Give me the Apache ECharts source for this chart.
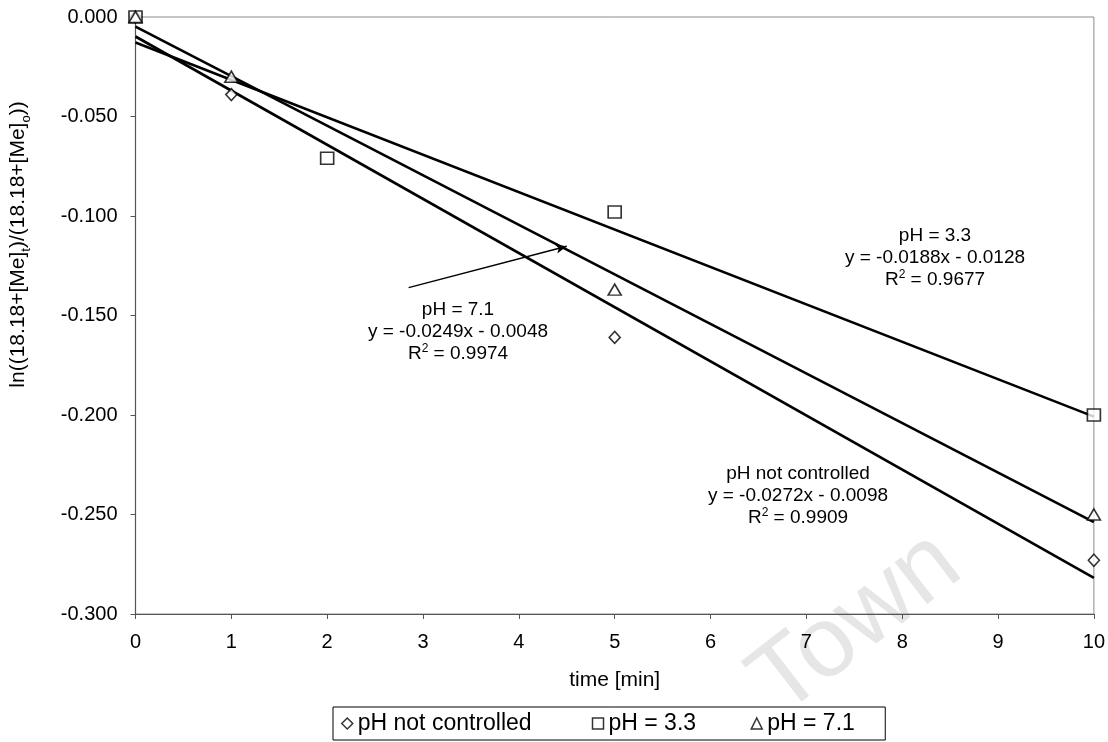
<!DOCTYPE html>
<html>
<head>
<meta charset="utf-8">
<script src="https://cdn.jsdelivr.net/npm/echarts@6/dist/echarts.min.js"></script>
<style>
  html, body { margin: 0; padding: 0; background: #fff; }
  #chart { width: 1108px; height: 742px; }
</style>
</head>
<body>
<div id="chart"></div>
<script>
// Measured points: time [min] vs ln((18.18+[Me]t)/(18.18+[Me]o))
const seriesNames = ['pH not controlled', 'pH = 3.3', 'pH = 7.1'];
const timeNotControlled = [0, 1, 5, 10];
const valNotControlled = [0, -0.039, -0.161, -0.273];
const timePH33 = [0, 2, 5, 10];
const valPH33 = [0, -0.071, -0.098, -0.200];
const timePH71 = [0, 1, 5, 10];
const valPH71 = [0, -0.030, -0.137, -0.250];

// Linear fits (slope, intercept, R²) as printed beside the lines
const fitSlopes = [-0.0272, -0.0188, -0.0249];
const fitIntercepts = [-0.0098, -0.0128, -0.0048];
const fitR2 = ['0.9909', '0.9677', '0.9974'];
const fitRange = [0, 10];

// Pointer from the pH = 7.1 label to its fitted line
const pointerStart = [2.85, -0.136];
const pointerEnd = [4.50, -0.1152];

const xTicks = { min: 0, max: 10, interval: 1 };
const yTicks = { min: -0.3, max: 0, interval: 0.05 };

const FONT = 'Liberation Sans, Arial, sans-serif';
const symbols = ['diamond', 'rect', 'triangle'];
const symbolSizes = [[11, 12], [13, 12], [13, 11]];
const legendTextWidths = [222, 130, 110];
const pointSets = [
  [timeNotControlled, valNotControlled],
  [timePH33, valPH33],
  [timePH71, valPH71]
];

const zip = (xs, ys) => xs.map((x, i) => [x, ys[i]]);

const scatterSeries = pointSets.map(([xs, ys], i) => ({
  name: seriesNames[i],
  type: 'scatter',
  data: zip(xs, ys),
  symbol: symbols[i],
  symbolSize: symbolSizes[i],
  itemStyle: { color: '#fff', borderColor: '#000', borderWidth: 1.6 },
  z: 4
}));

const fitSeries = fitSlopes.map((m, i) => ({
  name: seriesNames[i] + ' fit',
  type: 'line',
  data: fitRange.map(x => [x, m * x + fitIntercepts[i]]),
  symbol: 'none',
  lineStyle: { color: '#000', width: 2.6 },
  silent: true,
  z: 3
}));

const pointerSeries = {
  name: 'pointer',
  type: 'line',
  data: [],
  silent: true,
  markLine: {
    silent: true,
    symbol: ['none', 'arrow'],
    symbolSize: [7, 11],
    label: { show: false },
    lineStyle: { color: '#000', width: 1.5, type: 'solid' },
    data: [[{ coord: pointerStart }, { coord: pointerEnd }]]
  }
};

const annoRich = {
  t: { fontFamily: FONT, fontSize: 19, lineHeight: 22, verticalAlign: 'middle', fill: '#000' },
  sup: { fontFamily: FONT, fontSize: 12, lineHeight: 12, verticalAlign: 'top', fill: '#000' }
};

function annotation(x, y, title, i) {
  const m = Math.abs(fitSlopes[i]).toFixed(4);
  const b = Math.abs(fitIntercepts[i]).toFixed(4);
  return {
    type: 'text',
    x: x, y: y,
    z: 10,
    silent: true,
    style: {
      text: '{t|' + title + '}\n' +
        '{t|y = -' + m + 'x - ' + b + '}\n' +
        '{t|R}{sup|2}{t| = ' + fitR2[i] + '}',
      rich: annoRich,
      align: 'center',
      verticalAlign: 'top',
      fontFamily: FONT,
      fontSize: 19,
      lineHeight: 22,
      fill: '#000'
    }
  };
}

const legendRich = {};
seriesNames.forEach((n, i) => {
  legendRich['l' + i] = { fontFamily: FONT, fontSize: 23, lineHeight: 24, width: legendTextWidths[i], color: '#000' };
});

const chart = echarts.init(document.getElementById('chart'), null, { renderer: 'canvas' });

chart.setOption({
  backgroundColor: '#fff',
  animation: false,
  textStyle: { fontFamily: FONT },
  grid: {
    left: 135, right: 14, top: 17, bottom: 128,
    show: true, borderColor: '#8a8a8a', borderWidth: 1, backgroundColor: 'transparent'
  },
  legend: {
    data: seriesNames.map((n, i) => ({ name: n, icon: symbols[i] })),
    formatter: name => '{l' + seriesNames.indexOf(name) + '|' + name + '}',
    bottom: 2,
    left: 333,
    orient: 'horizontal',
    itemWidth: 11,
    itemHeight: 11,
    itemGap: 12,
    padding: [5, 8, 5, 8],
    borderColor: '#000',
    borderWidth: 1,
    textStyle: { fontFamily: FONT, fontSize: 23, color: '#000', rich: legendRich },
    itemStyle: { color: '#fff', borderColor: '#000', borderWidth: 1.5 }
  },
  xAxis: {
    type: 'value',
    min: xTicks.min, max: xTicks.max, interval: xTicks.interval,
    name: 'time [min]',
    nameLocation: 'middle',
    nameGap: 56,
    nameTextStyle: { fontFamily: FONT, fontSize: 21, color: '#000' },
    axisLine: { onZero: false, lineStyle: { color: '#555', width: 1.2 } },
    axisTick: { show: true, inside: false, length: 5, lineStyle: { color: '#555' } },
    axisLabel: { fontFamily: FONT, fontSize: 20, color: '#000', margin: 18 },
    splitLine: { show: false }
  },
  yAxis: {
    type: 'value',
    min: yTicks.min, max: yTicks.max, interval: yTicks.interval,
    name: '{n|ln((18.18+[Me]}{s|t}{n|)/(18.18+[Me]}{s|o}{n|))}',
    nameLocation: 'middle',
    nameGap: 103,
    nameTextStyle: {
      padding: [0, 0, 0, 142],
      rich: {
        n: { fontFamily: FONT, fontSize: 21, lineHeight: 28, verticalAlign: 'middle', color: '#000' },
        s: { fontFamily: FONT, fontSize: 13, lineHeight: 13, verticalAlign: 'bottom', color: '#000' }
      }
    },
    axisLine: { onZero: false, lineStyle: { color: '#555', width: 1.2 } },
    axisTick: { show: true, inside: false, length: 5, lineStyle: { color: '#555' } },
    axisLabel: {
      fontFamily: FONT, fontSize: 20, color: '#000', margin: 18,
      formatter: v => v.toFixed(3)
    },
    splitLine: { show: false }
  },
  graphic: [
    {
      type: 'text',
      x: 795, y: 735,
      rotation: 0.66,
      z: -10,
      silent: true,
      style: {
        text: 'Town',
        fontFamily: FONT,
        fontSize: 100,
        fill: '#e6e6e6',
        align: 'left',
        verticalAlign: 'bottom'
      }
    },
    annotation(935, 225, 'pH = 3.3', 1),
    annotation(458, 299, 'pH = 7.1', 2),
    annotation(798, 463, 'pH not controlled', 0)
  ],
  series: [...fitSeries, ...scatterSeries, pointerSeries]
});
</script>
</body>
</html>
